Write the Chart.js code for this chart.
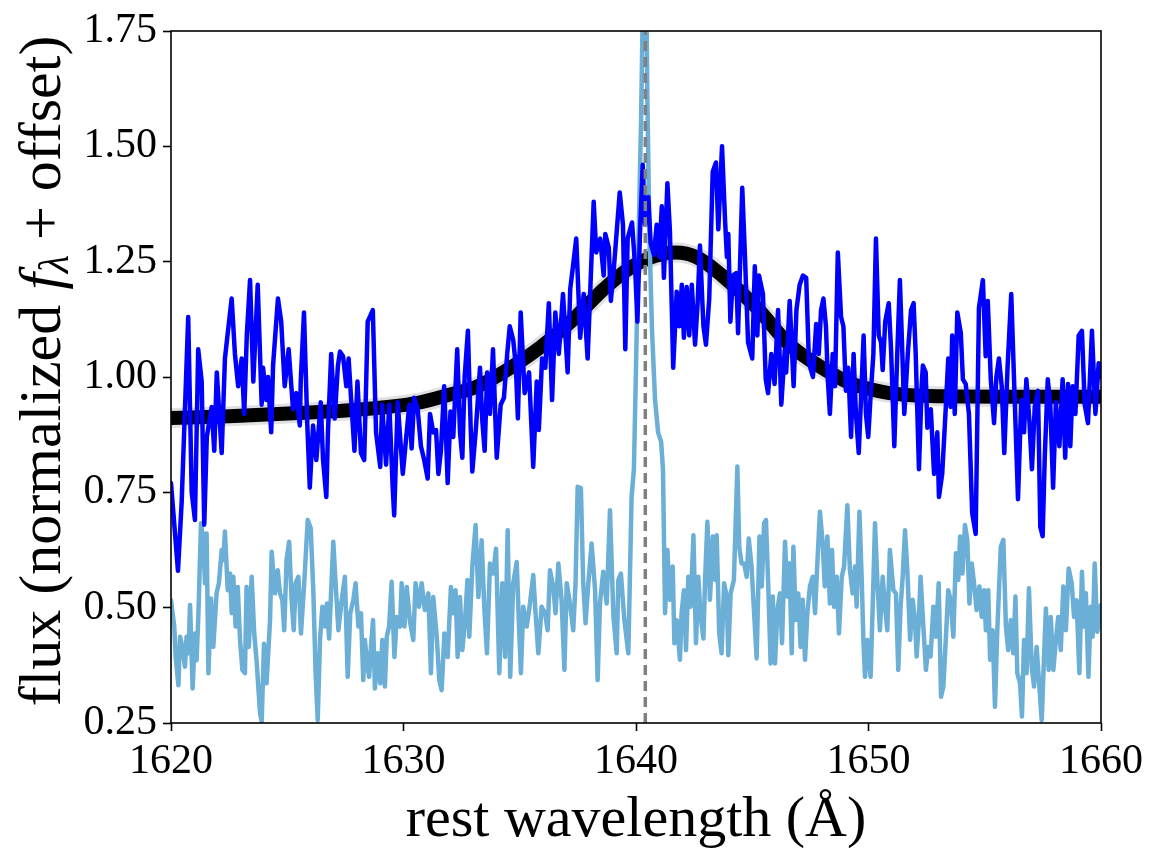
<!DOCTYPE html>
<html>
<head>
<meta charset="utf-8">
<title>He II spectrum</title>
<script src="https://cdn.jsdelivr.net/npm/chart.js@4.4.1/dist/chart.umd.min.js"></script>
<style>
  html, body { margin: 0; padding: 0; background: #fff; }
  #wrap { width: 1159px; height: 868px; }
</style>
</head>
<body>
<div id="wrap"><canvas id="spec"></canvas></div>
<script>
// 轴刻度
const xTicks = [1620, 1630, 1640, 1650, 1660];
const yTicks = [0.25, 0.50, 0.75, 1.00, 1.25, 1.50, 1.75];
const lineCenter = 1640.4;

// 蓝色光谱 (波长, 流量)
const blueWave = [
  1620.00, 1620.30, 1620.46, 1620.74, 1620.89, 1621.03, 1621.17, 1621.32, 1621.43, 1621.54,
  1621.75, 1621.86, 1621.97, 1622.18, 1622.32, 1622.44, 1622.61, 1622.75, 1622.89, 1623.04,
  1623.15, 1623.26, 1623.40, 1623.54, 1623.73, 1623.90, 1623.96, 1624.10, 1624.17, 1624.31,
  1624.39, 1624.60, 1624.74, 1624.89, 1625.06, 1625.25, 1625.39, 1625.54, 1625.58, 1625.72,
  1625.86, 1625.97, 1626.11, 1626.25, 1626.44, 1626.54, 1626.68, 1626.75, 1626.89, 1627.04,
  1627.18, 1627.27, 1627.40, 1627.54, 1627.64, 1627.75, 1627.89, 1628.02, 1628.17, 1628.31,
  1628.46, 1628.68, 1628.82, 1629.00, 1629.08, 1629.25, 1629.39, 1629.54, 1629.60, 1629.75,
  1629.97, 1630.11, 1630.25, 1630.35, 1630.46, 1630.61, 1630.75, 1630.89, 1631.04, 1631.14,
  1631.28, 1631.40, 1631.50, 1631.61, 1631.75, 1631.90, 1632.02, 1632.14, 1632.31, 1632.43,
  1632.53, 1632.63, 1632.77, 1632.89, 1632.96, 1633.11, 1633.29, 1633.39, 1633.49, 1633.60,
  1633.72, 1633.85, 1634.01, 1634.18, 1634.32, 1634.46, 1634.57, 1634.72, 1634.83, 1634.92,
  1635.04, 1635.21, 1635.40, 1635.58, 1635.73, 1635.82, 1635.96, 1636.10, 1636.25, 1636.39,
  1636.53, 1636.68, 1636.86, 1637.06, 1637.17, 1637.29, 1637.43, 1637.60, 1637.75, 1637.92,
  1638.18, 1638.29, 1638.46, 1638.61, 1638.68, 1638.83, 1638.92, 1639.07, 1639.30, 1639.44,
  1639.54, 1639.64, 1639.83, 1639.96, 1640.06, 1640.17, 1640.29, 1640.39, 1640.53, 1640.63,
  1640.77, 1640.89, 1641.00, 1641.11, 1641.20, 1641.35, 1641.46, 1641.60, 1641.75, 1641.86,
  1641.97, 1642.06, 1642.18, 1642.29, 1642.40, 1642.54, 1642.65, 1642.75, 1642.90, 1643.01,
  1643.15, 1643.30, 1643.44, 1643.54, 1643.70, 1643.83, 1643.91, 1643.97, 1644.06, 1644.17,
  1644.31, 1644.39, 1644.57, 1644.68, 1644.82, 1645.00, 1645.11, 1645.22, 1645.29, 1645.46,
  1645.58, 1645.68, 1645.82, 1645.96, 1646.11, 1646.25, 1646.40, 1646.46, 1646.61, 1646.78,
  1646.90, 1647.04, 1647.18, 1647.32, 1647.44, 1647.61, 1647.75, 1647.86, 1647.96, 1648.06,
  1648.17, 1648.25, 1648.34, 1648.46, 1648.56, 1648.68, 1648.82, 1648.92, 1649.03, 1649.13,
  1649.25, 1649.36, 1649.46, 1649.58, 1649.68, 1649.79, 1649.89, 1649.99, 1650.08, 1650.21,
  1650.32, 1650.44, 1650.54, 1650.61, 1650.72, 1650.87, 1650.97, 1651.11, 1651.23, 1651.35,
  1651.44, 1651.54, 1651.69, 1651.83, 1651.94, 1652.03, 1652.17, 1652.29, 1652.34, 1652.46,
  1652.53, 1652.68, 1652.82, 1652.96, 1653.03, 1653.17, 1653.32, 1653.43, 1653.53, 1653.60,
  1653.71, 1653.82, 1653.97, 1654.06, 1654.18, 1654.32, 1654.46, 1654.61, 1654.75, 1654.92,
  1655.04, 1655.13, 1655.26, 1655.40, 1655.50, 1655.61, 1655.73, 1655.84, 1655.98, 1656.14,
  1656.26, 1656.43, 1656.57, 1656.69, 1656.79, 1656.92, 1657.03, 1657.15, 1657.29, 1657.39,
  1657.49, 1657.58, 1657.71, 1657.82, 1657.94, 1658.06, 1658.21, 1658.35, 1658.46, 1658.58,
  1658.68, 1658.78, 1658.90, 1659.04, 1659.18, 1659.30, 1659.44, 1659.61, 1659.76, 1659.90,
  1660.00
];
const blueFlux = [
  0.77, 0.58, 0.73, 1.13, 0.75, 0.69, 1.06, 0.99, 0.68, 0.87,
  0.935, 0.84, 1.01, 0.835, 1.04, 1.095, 1.17, 1.05, 0.98, 1.04,
  0.92, 1.09, 1.21, 0.99, 1.20, 0.94, 1.02, 0.95, 1.00, 0.88,
  1.025, 1.17, 1.12, 0.98, 1.06, 0.93, 0.965, 0.895, 0.99, 1.14,
  0.90, 0.76, 0.895, 0.82, 0.945, 0.82, 0.74, 0.88, 1.05, 0.91,
  1.025, 1.055, 1.045, 0.98, 1.04, 0.95, 0.84, 0.99, 0.835, 0.82,
  1.12, 1.145, 0.88, 0.805, 0.94, 0.81, 0.94, 0.755, 0.70, 0.945,
  0.79, 0.865, 0.94, 0.845, 0.955, 0.93, 0.85, 0.82, 0.78, 0.92,
  0.88, 0.885, 0.79, 0.84, 0.98, 0.77, 0.925, 0.87, 1.06, 0.88,
  0.825, 1.00, 1.10, 0.89, 0.795, 0.885, 1.02, 0.905, 0.84, 1.01,
  0.92, 1.06, 0.825, 0.94, 0.955, 1.05, 1.11, 1.08, 1.025, 0.91,
  1.14, 0.965, 1.01, 0.805, 0.99, 0.885, 1.04, 1.02, 1.16, 0.95,
  1.14, 1.05, 1.18, 1.01, 1.19, 1.24, 1.30, 1.085, 1.18, 1.04,
  1.38, 1.27, 1.30, 1.22, 1.31, 1.28, 1.165, 1.25, 1.40, 1.33,
  1.06, 1.30, 1.335, 1.24, 1.12, 1.31, 1.46, 1.33, 1.39, 1.29,
  1.265, 1.33, 1.26, 1.37, 1.215, 1.42, 1.315, 1.02, 1.185, 1.11,
  1.20, 1.085, 1.195, 1.09, 1.20, 1.07, 1.16, 1.285, 1.11, 1.07,
  1.17, 1.445, 1.465, 1.32, 1.50, 1.34, 1.26, 1.31, 1.12, 1.22,
  1.225, 1.095, 1.41, 1.27, 1.075, 1.04, 1.24, 1.09, 1.22, 1.18,
  0.995, 0.965, 1.05, 0.985, 1.145, 0.94, 1.06, 1.01, 1.165, 0.98,
  1.145, 1.20, 1.22, 1.215, 1.03, 1.00, 1.115, 1.05, 1.145, 1.17,
  1.11, 0.995, 0.92, 1.05, 0.98, 1.27, 1.13, 1.11, 0.97, 1.02,
  0.87, 1.05, 0.92, 0.835, 0.955, 1.09, 0.92, 0.87, 0.95, 1.05,
  1.30, 1.09, 1.075, 1.015, 1.12, 1.16, 1.06, 0.85, 1.04, 1.21,
  1.075, 0.92, 1.05, 1.145, 1.16, 1.05, 0.80, 0.985, 1.025, 1.01,
  0.89, 0.93, 0.79, 0.88, 0.74, 0.79, 0.93, 1.04, 0.935, 1.09,
  0.92, 1.14, 1.095, 0.995, 0.985, 0.92, 0.705, 0.66, 1.15, 1.21,
  1.045, 1.165, 0.995, 0.90, 1.00, 1.04, 0.98, 0.835, 1.02, 1.18,
  0.995, 0.735, 0.95, 0.88, 0.995, 0.905, 0.80, 0.935, 0.97, 0.675,
  0.655, 0.825, 0.995, 0.94, 0.76, 0.945, 0.85, 0.995, 0.825, 0.985,
  0.85, 0.98, 0.92, 1.09, 1.10, 0.94, 0.90, 1.10, 0.92, 1.03,
  1.00
];

// 浅蓝色光谱 (带发射线)
const skyWave = [
  1620.00, 1620.14, 1620.20, 1620.32, 1620.39, 1620.49, 1620.60, 1620.67, 1620.75, 1620.82,
  1620.93, 1621.03, 1621.10, 1621.18, 1621.29, 1621.39, 1621.46, 1621.53, 1621.61, 1621.72,
  1621.82, 1621.96, 1622.06, 1622.18, 1622.25, 1622.32, 1622.44, 1622.54, 1622.61, 1622.68,
  1622.78, 1622.87, 1622.97, 1623.07, 1623.18, 1623.25, 1623.35, 1623.47, 1623.58, 1623.68,
  1623.83, 1623.90, 1624.00, 1624.11, 1624.26, 1624.33, 1624.47, 1624.59, 1624.69, 1624.79,
  1624.87, 1624.97, 1625.08, 1625.19, 1625.28, 1625.36, 1625.48, 1625.59, 1625.73, 1625.88,
  1626.01, 1626.12, 1626.22, 1626.31, 1626.41, 1626.51, 1626.62, 1626.71, 1626.80, 1626.98,
  1627.08, 1627.20, 1627.34, 1627.48, 1627.60, 1627.71, 1627.84, 1627.94, 1628.06, 1628.17,
  1628.27, 1628.34, 1628.42, 1628.52, 1628.60, 1628.69, 1628.77, 1628.89, 1629.00, 1629.09,
  1629.20, 1629.28, 1629.38, 1629.49, 1629.61, 1629.71, 1629.85, 1629.92, 1630.04, 1630.14,
  1630.28, 1630.42, 1630.52, 1630.67, 1630.78, 1630.92, 1631.07, 1631.18, 1631.28, 1631.43,
  1631.54, 1631.64, 1631.76, 1631.90, 1632.04, 1632.14, 1632.24, 1632.33, 1632.43, 1632.53,
  1632.64, 1632.75, 1632.83, 1632.96, 1633.10, 1633.22, 1633.36, 1633.48, 1633.59, 1633.72,
  1633.86, 1633.98, 1634.12, 1634.25, 1634.37, 1634.48, 1634.59, 1634.72, 1634.87, 1634.97,
  1635.05, 1635.15, 1635.30, 1635.44, 1635.58, 1635.68, 1635.80, 1635.94, 1636.09, 1636.20,
  1636.30, 1636.44, 1636.54, 1636.66, 1636.80, 1636.92, 1637.02, 1637.16, 1637.30, 1637.40,
  1637.49, 1637.63, 1637.73, 1637.83, 1637.95, 1638.09, 1638.24, 1638.35, 1638.45, 1638.59,
  1638.74, 1638.88, 1639.03, 1639.17, 1639.24, 1639.35, 1639.50, 1639.67, 1639.81, 1639.91,
  1640.00, 1640.11, 1640.22, 1640.32, 1640.41, 1640.49, 1640.58, 1640.69, 1640.82, 1640.95,
  1641.08, 1641.16, 1641.25, 1641.35, 1641.46, 1641.58, 1641.65, 1641.75, 1641.89, 1641.96,
  1642.06, 1642.15, 1642.25, 1642.35, 1642.47, 1642.58, 1642.68, 1642.78, 1642.90, 1642.97,
  1643.07, 1643.18, 1643.30, 1643.40, 1643.47, 1643.58, 1643.68, 1643.79, 1643.90, 1643.97,
  1644.07, 1644.21, 1644.36, 1644.44, 1644.54, 1644.65, 1644.76, 1644.85, 1644.97, 1645.08,
  1645.19, 1645.31, 1645.41, 1645.51, 1645.59, 1645.69, 1645.79, 1645.88, 1645.98, 1646.08,
  1646.19, 1646.28, 1646.41, 1646.51, 1646.60, 1646.70, 1646.77, 1646.87, 1646.98, 1647.08,
  1647.17, 1647.27, 1647.37, 1647.48, 1647.60, 1647.70, 1647.80, 1647.91, 1648.03, 1648.12,
  1648.23, 1648.34, 1648.43, 1648.52, 1648.63, 1648.73, 1648.85, 1648.95, 1649.09, 1649.20,
  1649.32, 1649.42, 1649.49, 1649.61, 1649.71, 1649.78, 1649.85, 1649.95, 1650.09, 1650.18,
  1650.28, 1650.38, 1650.49, 1650.61, 1650.71, 1650.81, 1650.92, 1651.07, 1651.18, 1651.28,
  1651.38, 1651.47, 1651.57, 1651.67, 1651.79, 1651.90, 1652.00, 1652.07, 1652.16, 1652.24,
  1652.36, 1652.47, 1652.57, 1652.67, 1652.79, 1652.90, 1653.02, 1653.12, 1653.22, 1653.33,
  1653.43, 1653.53, 1653.65, 1653.76, 1653.86, 1653.94, 1654.04, 1654.15, 1654.25, 1654.34,
  1654.44, 1654.54, 1654.65, 1654.77, 1654.87, 1654.97, 1655.05, 1655.15, 1655.23, 1655.34,
  1655.44, 1655.54, 1655.69, 1655.80, 1655.91, 1656.01, 1656.12, 1656.23, 1656.32, 1656.40,
  1656.52, 1656.60, 1656.69, 1656.80, 1656.90, 1657.02, 1657.12, 1657.23, 1657.35, 1657.45,
  1657.55, 1657.63, 1657.75, 1657.84, 1657.95, 1658.06, 1658.16, 1658.27, 1658.38, 1658.49,
  1658.61, 1658.74, 1658.84, 1658.95, 1659.07, 1659.18, 1659.27, 1659.35, 1659.46, 1659.56,
  1659.64, 1659.73, 1659.84, 1660.00
];
const skyFlux = [
  0.516, 0.459, 0.394, 0.332, 0.437, 0.415, 0.372, 0.437, 0.401, 0.506,
  0.325, 0.444, 0.386, 0.488, 0.683, 0.647, 0.553, 0.661, 0.358, 0.520,
  0.415, 0.531, 0.553, 0.625, 0.603, 0.665, 0.538, 0.574, 0.488, 0.567,
  0.459, 0.545, 0.430, 0.365, 0.358, 0.545, 0.415, 0.567, 0.444, 0.386,
  0.271, 0.253, 0.422, 0.336, 0.473, 0.621, 0.531, 0.581, 0.531, 0.516,
  0.451, 0.603, 0.643, 0.516, 0.451, 0.553, 0.567, 0.444, 0.553, 0.690,
  0.672, 0.538, 0.358, 0.256, 0.430, 0.502, 0.459, 0.509, 0.433, 0.643,
  0.553, 0.451, 0.516, 0.567, 0.350, 0.488, 0.516, 0.553, 0.459, 0.488,
  0.343, 0.430, 0.386, 0.350, 0.415, 0.473, 0.325, 0.401, 0.336, 0.430,
  0.329, 0.437, 0.459, 0.556, 0.393, 0.480, 0.459, 0.553, 0.459, 0.545,
  0.469, 0.430, 0.553, 0.502, 0.553, 0.495, 0.531, 0.358, 0.523, 0.437,
  0.343, 0.321, 0.444, 0.393, 0.545, 0.488, 0.538, 0.393, 0.523, 0.408,
  0.466, 0.560, 0.437, 0.589, 0.679, 0.523, 0.646, 0.495, 0.401, 0.596,
  0.574, 0.628, 0.358, 0.553, 0.393, 0.668, 0.350, 0.553, 0.599, 0.459,
  0.358, 0.502, 0.459, 0.509, 0.571, 0.488, 0.401, 0.502, 0.488, 0.451,
  0.581, 0.545, 0.488, 0.596, 0.516, 0.365, 0.553, 0.509, 0.451, 0.553,
  0.762, 0.759, 0.553, 0.466, 0.553, 0.639, 0.538, 0.343, 0.509, 0.578,
  0.509, 0.711, 0.480, 0.401, 0.560, 0.574, 0.473, 0.401, 0.740, 0.800,
  1.020, 1.300, 1.560, 1.900, 2.000, 1.600, 1.300, 1.100, 0.950, 0.880,
  0.860, 0.800, 0.488, 0.625, 0.517, 0.589, 0.423, 0.473, 0.387, 0.488,
  0.538, 0.408, 0.567, 0.502, 0.657, 0.423, 0.567, 0.480, 0.433, 0.560,
  0.686, 0.517, 0.654, 0.560, 0.657, 0.444, 0.401, 0.553, 0.524, 0.397,
  0.531, 0.560, 0.806, 0.632, 0.596, 0.596, 0.567, 0.650, 0.589, 0.488,
  0.390, 0.654, 0.546, 0.683, 0.690, 0.546, 0.379, 0.524, 0.379, 0.495,
  0.531, 0.423, 0.643, 0.524, 0.596, 0.401, 0.632, 0.473, 0.531, 0.415,
  0.517, 0.387, 0.488, 0.546, 0.567, 0.488, 0.596, 0.708, 0.639, 0.546,
  0.654, 0.509, 0.625, 0.502, 0.567, 0.444, 0.567, 0.589, 0.722, 0.582,
  0.531, 0.589, 0.502, 0.708, 0.560, 0.430, 0.350, 0.430, 0.350, 0.502,
  0.683, 0.560, 0.451, 0.567, 0.502, 0.451, 0.625, 0.538, 0.531, 0.365,
  0.502, 0.567, 0.668, 0.582, 0.430, 0.517, 0.473, 0.394, 0.466, 0.567,
  0.459, 0.365, 0.415, 0.394, 0.502, 0.437, 0.553, 0.307, 0.329, 0.437,
  0.538, 0.517, 0.437, 0.618, 0.560, 0.654, 0.574, 0.679, 0.647, 0.509,
  0.596, 0.553, 0.495, 0.546, 0.480, 0.538, 0.451, 0.538, 0.387, 0.451,
  0.285, 0.451, 0.632, 0.647, 0.459, 0.408, 0.473, 0.401, 0.524, 0.358,
  0.336, 0.264, 0.430, 0.358, 0.542, 0.372, 0.329, 0.415, 0.329, 0.256,
  0.394, 0.498, 0.365, 0.480, 0.365, 0.430, 0.480, 0.408, 0.546, 0.451,
  0.585, 0.553, 0.480, 0.516, 0.358, 0.578, 0.459, 0.531, 0.350, 0.502,
  0.437, 0.596, 0.448, 0.506
];

// 模型曲线 (黑色)
const modelWave = [1620.0, 1622.5, 1625.5, 1628.0, 1630.6, 1632.0, 1633.2, 1634.6, 1635.9, 1637.2,
  1638.6, 1639.7, 1640.8, 1641.7, 1642.6, 1643.7, 1645.2, 1646.6, 1648.0, 1649.2,
  1650.6, 1652.0, 1653.9, 1656.1, 1660.0];
const modelFlux = [0.911, 0.915, 0.922, 0.929, 0.944, 0.962, 0.980, 1.020, 1.065, 1.120,
  1.190, 1.235, 1.262, 1.270, 1.260, 1.220, 1.150, 1.070, 1.020, 0.987,
  0.968, 0.960, 0.958, 0.957, 0.957];

function zip(xs, ys) {
    return xs.map((x, i) => ({ x: x, y: ys[i] }));
}

const serif = "'Liberation Serif', 'Times New Roman', serif";

// 外框
const framePlugin = {
    id: 'frame',
    afterDatasetsDraw(chart) {
        const a = chart.chartArea;
        const ctx = chart.ctx;
        ctx.save();
        ctx.strokeStyle = '#000';
        ctx.lineWidth = 1.6;
        ctx.strokeRect(a.left, a.top, a.right - a.left, a.bottom - a.top);
        ctx.restore();
    }
};

// y 轴标题 (带下标)
const yTitlePlugin = {
    id: 'yTitle',
    afterDraw(chart) {
        const a = chart.chartArea;
        const ctx = chart.ctx;
        const size = 60;
        const parts = [
            { t: 'flux (normalized ', f: `${size}px ${serif}`, dy: 0 },
            { t: 'f', f: `italic ${size}px ${serif}`, dy: 0 },
            { t: 'λ', f: `italic ${Math.round(size * 0.7)}px ${serif}`, dy: size * 0.22 },
            { t: ' + offset)', f: `${size}px ${serif}`, dy: 0 }
        ];
        ctx.save();
        let total = 0;
        parts.forEach(p => { ctx.font = p.f; p.w = ctx.measureText(p.t).width; total += p.w; });
        ctx.translate(44, (a.top + a.bottom) / 2 - 6);
        ctx.rotate(-Math.PI / 2);
        ctx.fillStyle = '#000';
        ctx.textBaseline = 'middle';
        ctx.textAlign = 'left';
        let x = -total / 2;
        parts.forEach(p => {
            ctx.font = p.f;
            ctx.fillText(p.t, x, p.dy);
            x += p.w;
        });
        ctx.restore();
    }
};

new Chart(document.getElementById('spec'), {
    type: 'line',
    data: {
        datasets: [
            {
                data: [{ x: lineCenter, y: yTicks[0] }, { x: lineCenter, y: yTicks[yTicks.length - 1] }],
                borderColor: '#808080',
                borderWidth: 3.5,
                borderDash: [10, 6],
                pointRadius: 0,
                order: 0
            },
            {
                data: zip(blueWave, blueFlux),
                borderColor: '#0000ff',
                borderWidth: 4.5,
                borderJoinStyle: 'round',
                borderCapStyle: 'round',
                pointRadius: 0,
                tension: 0,
                order: 1
            },
            {
                data: zip(skyWave, skyFlux),
                borderColor: '#6baed6',
                borderWidth: 4.5,
                borderJoinStyle: 'round',
                borderCapStyle: 'round',
                pointRadius: 0,
                tension: 0,
                order: 2
            },
            {
                data: zip(modelWave, modelFlux),
                borderColor: '#000000',
                borderWidth: 14,
                pointRadius: 0,
                cubicInterpolationMode: 'monotone',
                order: 3
            },
            {
                data: zip(modelWave, modelFlux),
                borderColor: 'rgba(0,0,0,0.12)',
                borderWidth: 20,
                pointRadius: 0,
                cubicInterpolationMode: 'monotone',
                order: 4
            }
        ]
    },
    options: {
        responsive: true,
        maintainAspectRatio: false,
        animation: false,
        events: [],
        layout: { padding: { top: 31, right: 58, left: 0, bottom: 0 } },
        plugins: {
            legend: { display: false },
            tooltip: { enabled: false }
        },
        scales: {
            x: {
                type: 'linear',
                min: xTicks[0],
                max: xTicks[xTicks.length - 1],
                afterBuildTicks: (s) => { s.ticks = xTicks.map(v => ({ value: v })); },
                afterFit: (s) => { s.height = 145; s.paddingLeft = 0; s.paddingRight = 0; },
                border: { display: false },
                grid: { drawOnChartArea: false, drawTicks: true, tickLength: 8, tickWidth: 1.6, tickColor: '#000' },
                ticks: {
                    color: '#000',
                    padding: 6,
                    maxRotation: 0,
                    font: { family: serif, size: 42 },
                    callback: (v) => String(v)
                },
                title: {
                    display: true,
                    text: 'rest wavelength (Å)',
                    color: '#000',
                    font: { family: serif, size: 58 },
                    padding: { top: 0, bottom: 12 }
                }
            },
            y: {
                type: 'linear',
                min: yTicks[0],
                max: yTicks[yTicks.length - 1],
                afterBuildTicks: (s) => { s.ticks = yTicks.map(v => ({ value: v })); },
                afterFit: (s) => { s.width = 171; s.paddingTop = 0; s.paddingBottom = 0; },
                border: { display: false },
                grid: { drawOnChartArea: false, drawTicks: true, tickLength: 8, tickWidth: 1.6, tickColor: '#000' },
                ticks: {
                    color: '#000',
                    padding: 6,
                    font: { family: serif, size: 42 },
                    callback: (v) => Number(v).toFixed(2)
                }
            }
        }
    },
    plugins: [framePlugin, yTitlePlugin]
});
</script>
</body>
</html>
